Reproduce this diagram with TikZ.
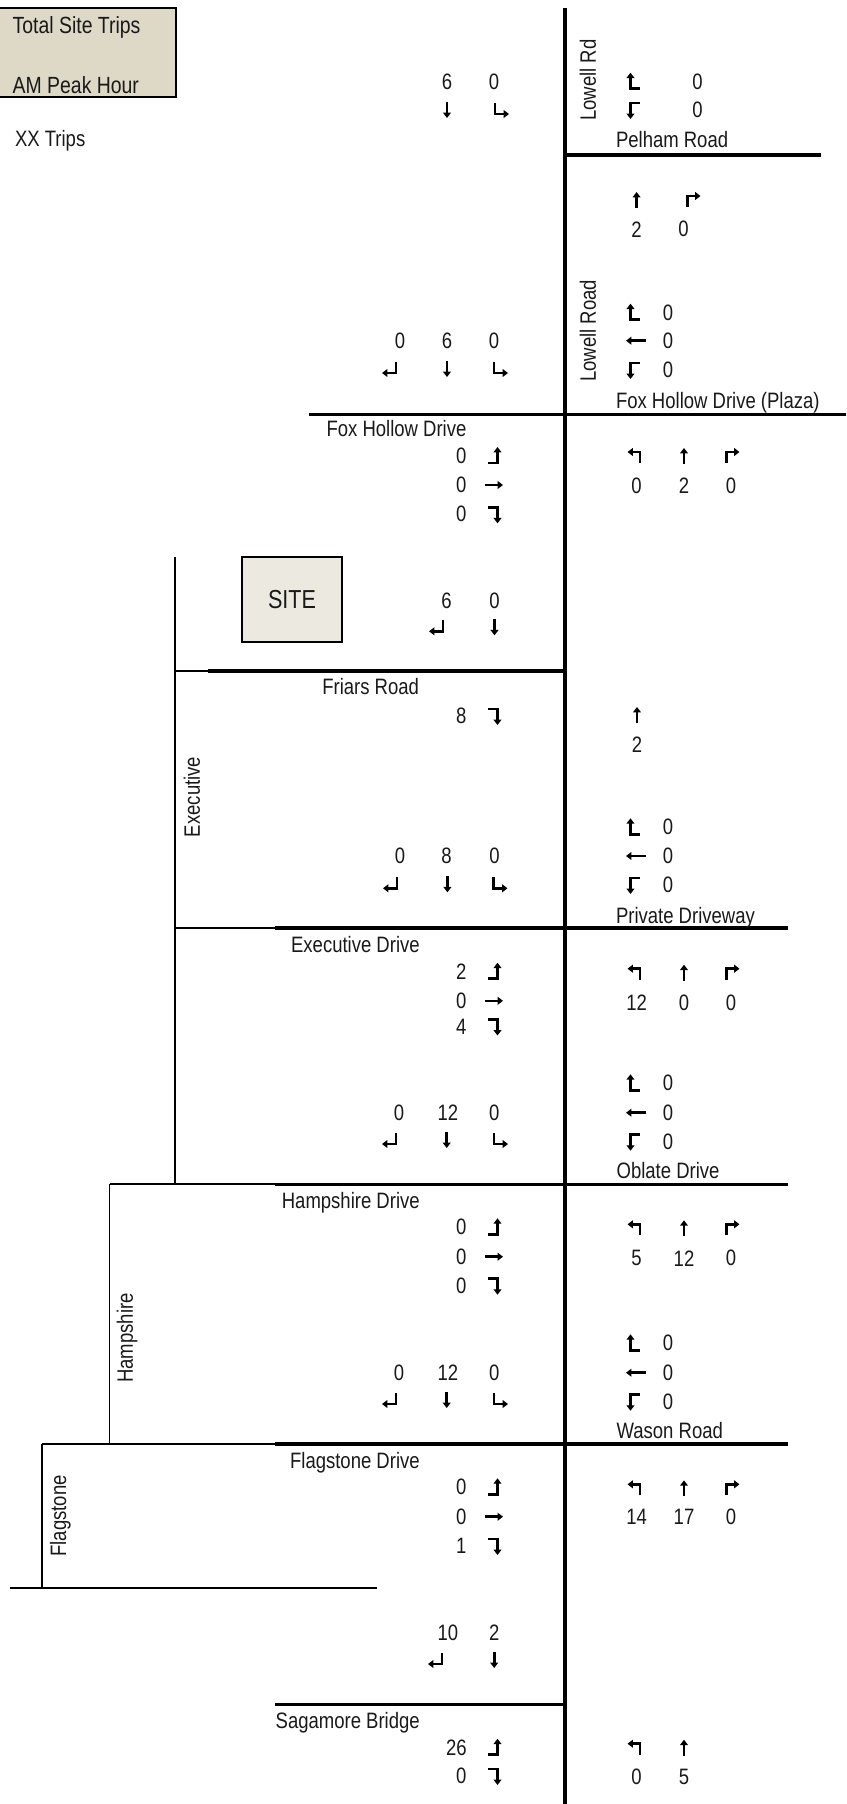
\documentclass[tikz,border=0pt]{standalone}
\usepackage{fontspec}
\setmainfont{Liberation Sans}[FakeStretch=0.83]
\usetikzlibrary{arrows.meta}
\definecolor{legendfill}{RGB}{221,217,198}
\definecolor{sitefill}{RGB}{236,233,225}
\definecolor{inkgray}{RGB}{25,25,25}
\tikzset{
  arr/.style={line width=1.3pt, line join=miter, -{Triangle[length=2.7pt,width=3.9pt]}},
  sT/.pic={\draw[arr] (0,-8) -- (0,8);},
  nT/.pic={\draw[arr] (0,8) -- (0,-8);},
  eT/.pic={\draw[arr] (-9,0) -- (9,0);},
  wT/.pic={\draw[arr] (10,0) -- (-10,0);},
  eL/.pic={\draw[arr] (-6,7) -- (3.5,7) -- (3.5,-9);},
  eR/.pic={\draw[arr] (-6,-7) -- (3.5,-7) -- (3.5,9);},
  wR/.pic={\draw[arr] (6,7) -- (-3.5,7) -- (-3.5,-9);},
  wL/.pic={\draw[arr] (6,-7) -- (-3.5,-7) -- (-3.5,9);},
  nL/.pic={\draw[arr] (4,7) -- (4,-4) -- (-8.5,-4);},
  nR/.pic={\draw[arr] (-4.5,7) -- (-4.5,-4) -- (8.5,-4);},
  sR/.pic={\draw[arr] (5,-7) -- (5,4) -- (-9,4);},
  sL/.pic={\draw[arr] (-5,-7) -- (-5,4) -- (9,4);},
}
\begin{document}
\begin{tikzpicture}[x=0.5pt,y=-0.5pt,
  every node/.style={inner sep=0pt, outer sep=0pt, text=inkgray, font=\fontsize{11.15}{13}\selectfont},
  mainroad/.style={line width=1.75pt},
  sideroad/.style={line width=0.9pt},
  midroad/.style={line width=1.2pt},
  lbl/.style={anchor=base west},
  lblr/.style={anchor=base east},
  vlbl/.style={rotate=90, anchor=center},
  num/.style={anchor=center},
  numr/.style={anchor=east},
  legtext/.style={anchor=base west, font=\fontsize{11.7}{13}\selectfont},
]
\useasboundingbox (0,0) rectangle (846,1804);

% legend
\draw[fill=legendfill, line width=1pt] (-2,8.3) rectangle (175.7,96.7);
\node[legtext] (leg1) at (12.7,33.3) {Total Site Trips};
\node[legtext] (leg2) at (12.7,93.3) {AM Peak Hour};
\node[lbl] (leg3) at (15,146.7) {XX Trips};

% site
\node[draw, fill=sitefill, line width=1pt, minimum width=50pt, minimum height=42.2pt,
      font=\fontsize{13}{15}\selectfont] (site) at (292,599.5) {SITE};

% roads
\draw[mainroad] (565,8.3) -- (565,1804);
\draw[mainroad] (565,155) -- (821,155);
\draw[mainroad] (309,414.3) -- (846,414.3);
\draw[sideroad] (175.3,671) -- (208,671);
\draw[mainroad] (208,671) -- (565,671);
\draw[sideroad] (175.3,928) -- (275,928);
\draw[mainroad] (275,928) -- (788,928);
\draw[sideroad] (109.5,1184.3) -- (275,1184.3);
\draw[mainroad] (275,1184.3) -- (788,1184.3);
\draw[sideroad] (42,1444) -- (275,1444);
\draw[mainroad] (275,1444) -- (788,1444);
\draw[mainroad] (275,1704.3) -- (565,1704.3);
\draw[sideroad] (175.3,556.7) -- (175.3,1184.3);
\draw[sideroad] (109.5,1184.3) -- (109.5,1444);
\draw[sideroad] (42,1444) -- (42,1587.7);
\draw[midroad] (9.7,1587.7) -- (376.6,1587.7);

% road labels
\node[vlbl] (lowellrd) at (588,80) {Lowell Rd};
\node[vlbl] (lowellroad) at (588,330.7) {Lowell Road};
\node[vlbl] (executive) at (192,797) {Executive};
\node[vlbl] (hampshire) at (127,1338) {Hampshire};
\node[vlbl] (flagstone) at (60.4,1516) {Flagstone};
\node[lbl] (pelham) at (616,147) {Pelham Road};
\node[lbl] (foxplaza) at (616,408) {Fox Hollow Drive (Plaza)};
\node[lblr] (foxdrive) at (466.4,436.3) {Fox Hollow Drive};
\node[lblr] (friars) at (419,694.7) {Friars Road};
\node[lbl] (private) at (616,923) {Private Driveway};
\node[lblr] (execdrive) at (419.7,952) {Executive Drive};
\node[lbl] (oblate) at (616.6,1178.7) {Oblate Drive};
\node[lblr] (hampdrive) at (419.7,1208) {Hampshire Drive};
\node[lbl] (wason) at (616.6,1438.7) {Wason Road};
\node[lblr] (flagdrive) at (419.7,1468) {Flagstone Drive};
\node[lblr] (sagamore) at (419.7,1728) {Sagamore Bridge};

% ---------- southbound clusters ----------
% Pelham
\node[num] (s1b) at (447,81.7) {6};
\node[num] (s1c) at (494,81.7) {0};
\pic at (447,110) {sT};
\pic at (500,110) {sL};
% Fox Hollow
\node[num] (s2a) at (400,340.7) {0};
\node[num] (s2b) at (447,340.7) {6};
\node[num] (s2c) at (494,340.7) {0};
\pic at (391,369) {sR};
\pic at (447,369) {sT};
\pic at (499,369) {sL};
% Site driveway
\node[num] (s3a) at (446.5,601) {6};
\node[num] (s3b) at (494.5,601) {0};
\pic at (438,627.3) {sR};
\pic at (494.5,627.3) {sT};
% Private Driveway
\node[num] (s4a) at (400,856) {0};
\node[num] (s4b) at (446.5,856) {8};
\node[num] (s4c) at (494.5,856) {0};
\pic at (392,884.3) {sR};
\pic at (447.4,884.3) {sT};
\pic at (498.5,884.3) {sL};
% Oblate
\node[num] (s5a) at (399,1112.7) {0};
\node[num] (s5b) at (447.8,1112.7) {12};
\node[num] (s5c) at (494.2,1112.7) {0};
\pic at (391,1140) {sR};
\pic at (446.7,1140) {sT};
\pic at (499,1140) {sL};
% Wason
\node[num] (s6a) at (399,1372.7) {0};
\node[num] (s6b) at (447.8,1372.7) {12};
\node[num] (s6c) at (494.2,1372.7) {0};
\pic at (391,1400) {sR};
\pic at (446.7,1400) {sT};
\pic at (499,1400) {sL};
% Sagamore approach
\node[num] (s7a) at (447.8,1632.7) {10};
\node[num] (s7b) at (494.2,1632.7) {2};
\pic at (437,1660) {sR};
\pic at (494.2,1660) {sT};

% ---------- northbound clusters ----------
\pic at (636.6,200) {nT};
\pic at (692,200) {nR};
\node[num] (n1a) at (636.6,229.3) {2};
\node[num] (n1b) at (683.6,229.3) {0};

\pic at (636,456) {nL};
\pic at (684,456) {nT};
\pic at (731,456) {nR};
\node[num] (n2a) at (636.6,486) {0};
\node[num] (n2b) at (684,486) {2};
\node[num] (n2c) at (731,486) {0};

\pic at (637,715) {nT};
\node[num] (n3a) at (637,745) {2};

\pic at (636,972.7) {nL};
\pic at (684,972.7) {nT};
\pic at (731,972.7) {nR};
\node[num] (n4a) at (636.6,1002.5) {12};
\node[num] (n4b) at (684,1002.5) {0};
\node[num] (n4c) at (731,1002.5) {0};

\pic at (636,1228.3) {nL};
\pic at (684,1228.3) {nT};
\pic at (731,1228.3) {nR};
\node[num] (n5a) at (636.6,1258.3) {5};
\node[num] (n5b) at (684,1258.3) {12};
\node[num] (n5c) at (731,1258.3) {0};

\pic at (636,1488.3) {nL};
\pic at (684,1488.3) {nT};
\pic at (731,1488.3) {nR};
\node[num] (n6a) at (636.6,1517.3) {14};
\node[num] (n6b) at (684,1517.3) {17};
\node[num] (n6c) at (731,1517.3) {0};

\pic at (636,1747.7) {nL};
\pic at (684,1747.7) {nT};
\node[num] (n7a) at (636.6,1776.7) {0};
\node[num] (n7b) at (684,1776.7) {5};

% ---------- eastbound clusters ----------
\node[numr] (e1a) at (466.5,456) {0};
\node[numr] (e1b) at (466.5,485) {0};
\node[numr] (e1c) at (466.5,514.3) {0};
\pic at (494,456) {eL};
\pic at (494,485) {eT};
\pic at (494,514.3) {eR};

\node[numr] (e2a) at (466.5,716) {8};
\pic at (494,716) {eR};

\node[numr] (e3a) at (466.5,971.7) {2};
\node[numr] (e3b) at (466.5,1000.8) {0};
\node[numr] (e3c) at (466.5,1026.5) {4};
\pic at (494,971.7) {eL};
\pic at (494,1000.8) {eT};
\pic at (494,1026.5) {eR};

\node[numr] (e4a) at (466.5,1227.3) {0};
\node[numr] (e4b) at (466.5,1256.7) {0};
\node[numr] (e4c) at (466.5,1285.7) {0};
\pic at (494,1227.3) {eL};
\pic at (494,1256.7) {eT};
\pic at (494,1285.7) {eR};

\node[numr] (e5a) at (466.5,1487.3) {0};
\node[numr] (e5b) at (466.5,1516.7) {0};
\node[numr] (e5c) at (466.5,1546) {1};
\pic at (494,1487.3) {eL};
\pic at (494,1516.7) {eT};
\pic at (494,1546) {eR};

\node[numr] (e6a) at (466.7,1747.7) {26};
\node[numr] (e6b) at (466.5,1776) {0};
\pic at (494,1747.7) {eL};
\pic at (494,1776) {eR};

% ---------- westbound clusters ----------
\pic at (634,81.7) {wR};
\pic at (634,110) {wL};
\node[num] (w1a) at (697.6,81.7) {0};
\node[num] (w1b) at (697.6,110) {0};

\pic at (634,312.7) {wR};
\pic at (636,340.7) {wT};
\pic at (634,370) {wL};
\node[num] (w2a) at (668,312.7) {0};
\node[num] (w2b) at (668,340.7) {0};
\node[num] (w2c) at (668,370) {0};

\pic at (634,827.3) {wR};
\pic at (636,856) {wT};
\pic at (634,885) {wL};
\node[num] (w3a) at (668,827.3) {0};
\node[num] (w3b) at (668,856) {0};
\node[num] (w3c) at (668,885) {0};

\pic at (634,1083.3) {wR};
\pic at (636,1112.7) {wT};
\pic at (634,1141.7) {wL};
\node[num] (w4a) at (668,1083.3) {0};
\node[num] (w4b) at (668,1112.7) {0};
\node[num] (w4c) at (668,1141.7) {0};

\pic at (634,1343.3) {wR};
\pic at (636,1372.7) {wT};
\pic at (634,1401.7) {wL};
\node[num] (w5a) at (668,1343.3) {0};
\node[num] (w5b) at (668,1372.7) {0};
\node[num] (w5c) at (668,1401.7) {0};
\end{tikzpicture}
\end{document}
